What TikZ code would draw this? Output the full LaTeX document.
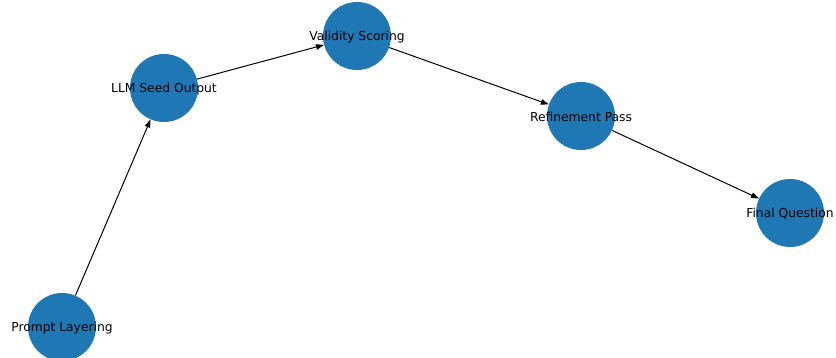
\documentclass[tikz,border=0pt]{standalone}
\usepackage{fontspec}
\setmainfont{DejaVu Sans}
\usetikzlibrary{arrows.meta}
\definecolor{nodeblue}{RGB}{31,119,180}
\tikzset{
  blob/.style={circle, fill=nodeblue, draw=none, minimum size=68pt, inner sep=0pt},
  lbl/.style={font=\fontsize{12.3pt}{14pt}\selectfont, text=black, inner sep=0pt, yshift=-1pt},
  conn/.style={-{Triangle[length=8pt,width=5.5pt]}, line width=1pt, black, shorten >=0pt}
}
\begin{document}
\begin{tikzpicture}[x=1pt,y=-1pt]
\useasboundingbox (0,0) rectangle (836,358);
\node[blob] (p) at (62,327) {};
\node[blob] (l) at (164,88) {};
\node[blob] (v) at (357,36) {};
\node[blob] (r) at (581,116) {};
\node[blob] (f) at (790,213) {};
\node[lbl] (pt) at (p.center) {Prompt Layering};
\node[lbl] (lt) at (l.center) {LLM Seed Output};
\node[lbl] (vt) at (v.center) {Validity Scoring};
\node[lbl] (rt) at (r.center) {Refinement Pass};
\node[lbl] (ft) at (f.center) {Final Question};
\draw[conn] (p) -- (l);
\draw[conn] (l) -- (v);
\draw[conn] (v) -- (r);
\draw[conn] (r) -- (f);
\end{tikzpicture}
\end{document}
